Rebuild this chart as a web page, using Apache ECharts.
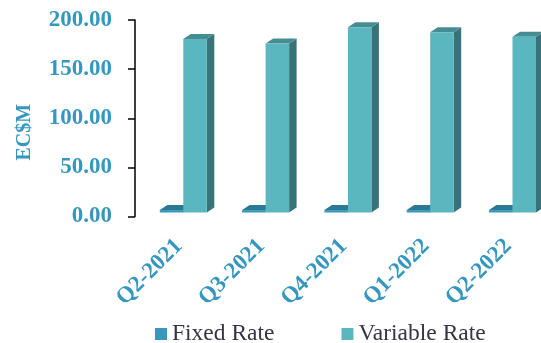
<!DOCTYPE html>
<html>
<head>
<meta charset="utf-8">
<script src="https://cdn.jsdelivr.net/npm/echarts@6/dist/echarts.min.js"></script>
<style>
html,body{margin:0;padding:0;background:#fff;}
#chart{width:541px;height:343px;}
</style>
</head>
<body>
<div id="chart"></div>
<script>
const categories = ['Q2-2021', 'Q3-2021', 'Q4-2021', 'Q1-2022', 'Q2-2022'];
const fixedRate = [2.5, 2.5, 2.5, 2.5, 2.5];
const variableRate = [176.5, 172.0, 188.5, 183.5, 179.0];
const yTicks = [0, 50, 100, 150, 200];
const seriesNames = ['Fixed Rate', 'Variable Rate'];

const fixedColors = { front: '#3A97BC', top: '#2B7893', side: '#23627A' };
const variableColors = { front: '#5AB6BF', top: '#468D93', side: '#38737A' };
const labelBlue = '#3597BF';

function makeRender(offsetFrac, colors) {
  return function (params, api) {
    const i = api.value(0);
    const v = api.value(1);
    const base = api.coord([i, 0]);
    const top = api.coord([i, v]);
    const step = api.coord([1, 0])[0] - api.coord([0, 0])[0];
    const w = step * 0.2855;
    const x0 = base[0] + offsetFrac * w;
    const x1 = x0 + w;
    const lift = 4;
    const yb = base[1] - lift;
    const yt = top[1] - lift;
    const dx = 7.5, dy = 5;
    return {
      type: 'group',
      children: [
        { type: 'polygon', shape: { points: [[x1, yb], [x1 + dx, yb - dy], [x1 + dx, yt - dy], [x1, yt]] }, style: { fill: colors.side } },
        { type: 'polygon', shape: { points: [[x0, yt], [x0 + dx, yt - dy], [x1 + dx, yt - dy], [x1, yt]] }, style: { fill: colors.top } },
        { type: 'rect', shape: { x: x0, y: yt, width: w, height: yb - yt }, style: { fill: colors.front } }
      ]
    };
  };
}

const chart = echarts.init(document.getElementById('chart'));
chart.setOption({
  animation: false,
  backgroundColor: '#ffffff',
  grid: { left: 183.3, top: 20, width: 329.2, height: 196.5 },
  legend: {
    left: 150, top: 317,
    itemWidth: 12, itemHeight: 12, itemGap: 67,
    icon: 'rect',
    textStyle: { fontFamily: 'Liberation Serif', fontSize: 23.5, color: '#343445' },
    data: seriesNames
  },
  xAxis: {
    type: 'category',
    data: categories,
    boundaryGap: false,
    axisLine: { show: false },
    axisTick: { show: false },
    axisLabel: {
      rotate: 45, margin: 22, padding: [0, 6, 0, 0],
      fontFamily: 'Liberation Serif', fontWeight: 'bold', fontSize: 23, color: labelBlue
    }
  },
  yAxis: {
    type: 'value',
    min: yTicks[0], max: yTicks[yTicks.length - 1], interval: 50,
    offset: 48.3,
    name: 'EC$M', nameLocation: 'middle', nameRotate: 90, nameGap: 100,
    nameTextStyle: { fontFamily: 'Liberation Serif', fontWeight: 'bold', fontSize: 20, color: labelBlue, padding: [0, 28, 0, 0] },
    axisLine: { show: true, lineStyle: { color: '#000', width: 1.5 } },
    axisTick: { show: true, length: 7, lineStyle: { color: '#000', width: 1.5 } },
    splitLine: { show: false },
    axisLabel: {
      margin: 23,
      formatter: v => v.toFixed(2),
      fontFamily: 'Liberation Serif', fontWeight: 'bold', fontSize: 23, color: labelBlue
    }
  },
  series: [
    {
      name: seriesNames[0], type: 'custom',
      itemStyle: { color: fixedColors.front },
      renderItem: makeRender(-1, fixedColors),
      encode: { x: 0, y: 1 },
      data: categories.map((c, i) => [i, fixedRate[i]])
    },
    {
      name: seriesNames[1], type: 'custom',
      itemStyle: { color: variableColors.front },
      renderItem: makeRender(0, variableColors),
      encode: { x: 0, y: 1 },
      data: categories.map((c, i) => [i, variableRate[i]])
    }
  ]
});
</script>
</body>
</html>
